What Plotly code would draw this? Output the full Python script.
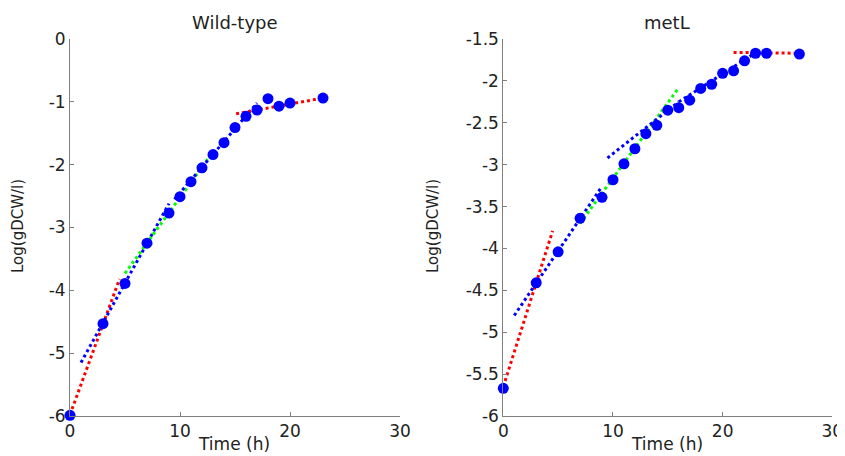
import plotly.graph_objects as go

# ---- data ----
wt_time = [0, 3, 5, 7, 9, 10, 11, 12, 13, 14, 15, 16, 17, 18, 19, 20, 23]
wt_log = [-5.99, -4.53, -3.89, -3.25, -2.77, -2.51, -2.27, -2.05, -1.84, -1.65,
          -1.41, -1.23, -1.13, -0.95, -1.07, -1.02, -0.94]

ml_time = [0, 3, 5, 7, 9, 10, 11, 12, 13, 14, 15, 16, 17, 18, 19, 20, 21, 22, 23, 24, 27]
ml_log = [-5.67, -4.41, -4.04, -3.64, -3.39, -3.18, -2.99, -2.81, -2.63, -2.53,
          -2.35, -2.32, -2.23, -2.09, -2.04, -1.91, -1.88, -1.76, -1.67, -1.67, -1.68]

# fitted growth-phase segments: (times, values, colour)
wt_fits = [
    ([0, 4.5], [-5.98, -3.82], "red"),
    ([1, 9], [-5.15, -2.62], "blue"),
    ([5, 12.7], [-3.73, -1.87], "green"),
    ([9.5, 17], [-2.55, -1.02], "blue"),
    ([15.1, 23.3], [-1.19, -0.93], "red"),
]
ml_fits = [
    ([0, 4.5], [-5.65, -3.79], "red"),
    ([1, 9], [-4.80, -3.26], "blue"),
    ([7, 15.9], [-3.70, -2.10], "green"),
    ([9.5, 16], [-2.92, -2.25], "blue"),
    ([16, 22.7], [-2.25, -1.69], "blue"),
    ([21, 27], [-1.66, -1.67], "red"),
]

x_ticks = [0, 10, 20, 30]
wt_y_ticks = [0, -1, -2, -3, -4, -5, -6]
ml_y_ticks = [-1.5, -2, -2.5, -3, -3.5, -4, -4.5, -5, -5.5, -6]

titles = ["Wild-type", "metL"]
x_title = "Time (h)"
y_title = "Log(gDCW/l)"

COLORS = {"red": "#ff0000", "blue": "#0000ff", "green": "#00ff00"}

def fmt(v):
    return "%g" % v

fig = go.Figure()

for fits, xa, ya in [(wt_fits, "x", "y"), (ml_fits, "x2", "y2")]:
    for t, v, c in fits:
        fig.add_trace(go.Scatter(x=t, y=v, mode="lines", xaxis=xa, yaxis=ya,
                                 line=dict(color=COLORS[c], width=3, dash="dot"),
                                 showlegend=False, hoverinfo="skip"))

fig.add_trace(go.Scatter(x=wt_time, y=wt_log, mode="markers", xaxis="x", yaxis="y",
                         marker=dict(color="#0000ff", size=11), cliponaxis=False,
                         showlegend=False))
fig.add_trace(go.Scatter(x=ml_time, y=ml_log, mode="markers", xaxis="x2", yaxis="y2",
                         marker=dict(color="#0000ff", size=11), cliponaxis=False,
                         showlegend=False))

# the page body adds an 8px offset; size the figure to fit the window
OFF = 8
W, H = 845 - OFF, 456 - OFF

def px(x):
    return (x - OFF) / W

def py(y):
    return (H - (y - OFF)) / H

axis_common = dict(showgrid=False, zeroline=False, showline=True, linecolor="#7f7f7f",
                   linewidth=1, ticks="inside", ticklen=4, tickcolor="#7f7f7f",
                   automargin=False,
                   tickfont=dict(family="DejaVu Sans", size=17, color="#222222"))

fig.update_layout(
    width=W, height=H,
    margin=dict(l=0, r=0, t=0, b=0, pad=0),
    paper_bgcolor="white", plot_bgcolor="white",
    xaxis=dict(domain=[px(70), px(400)], range=[0, 30], anchor="y",
               tickvals=x_ticks, ticktext=[fmt(v) for v in x_ticks], **axis_common),
    yaxis=dict(domain=[py(416), py(39)], range=[-6, 0], anchor="x",
               tickvals=wt_y_ticks, ticktext=[fmt(v) for v in wt_y_ticks], **axis_common),
    xaxis2=dict(domain=[px(503.3), px(832.3)], range=[0, 30], anchor="y2",
                tickvals=x_ticks, ticktext=[fmt(v) for v in x_ticks], **axis_common),
    yaxis2=dict(domain=[py(416), py(39)], range=[-6, -1.5], anchor="x2",
                tickvals=ml_y_ticks, ticktext=[fmt(v) for v in ml_y_ticks], **axis_common),
)

ann_font = dict(family="DejaVu Sans", color="#222222")
anns = [
    dict(text=titles[0], x=px(235), y=py(22), font=dict(size=18, **ann_font)),
    dict(text=titles[1], x=px(667), y=py(22), font=dict(size=18, **ann_font)),
    dict(text=x_title, x=px(234), y=py(444), font=dict(size=17, **ann_font)),
    dict(text=x_title, x=px(667), y=py(444), font=dict(size=17, **ann_font)),
    dict(text=y_title, x=px(18), y=py(226), textangle=-90, font=dict(size=15, **ann_font)),
    dict(text=y_title, x=px(433), y=py(226), textangle=-90, font=dict(size=15, **ann_font)),
]
for a in anns:
    fig.add_annotation(xref="paper", yref="paper", showarrow=False,
                       xanchor="center", yanchor="middle", **a)

fig.write_html("out.html")
